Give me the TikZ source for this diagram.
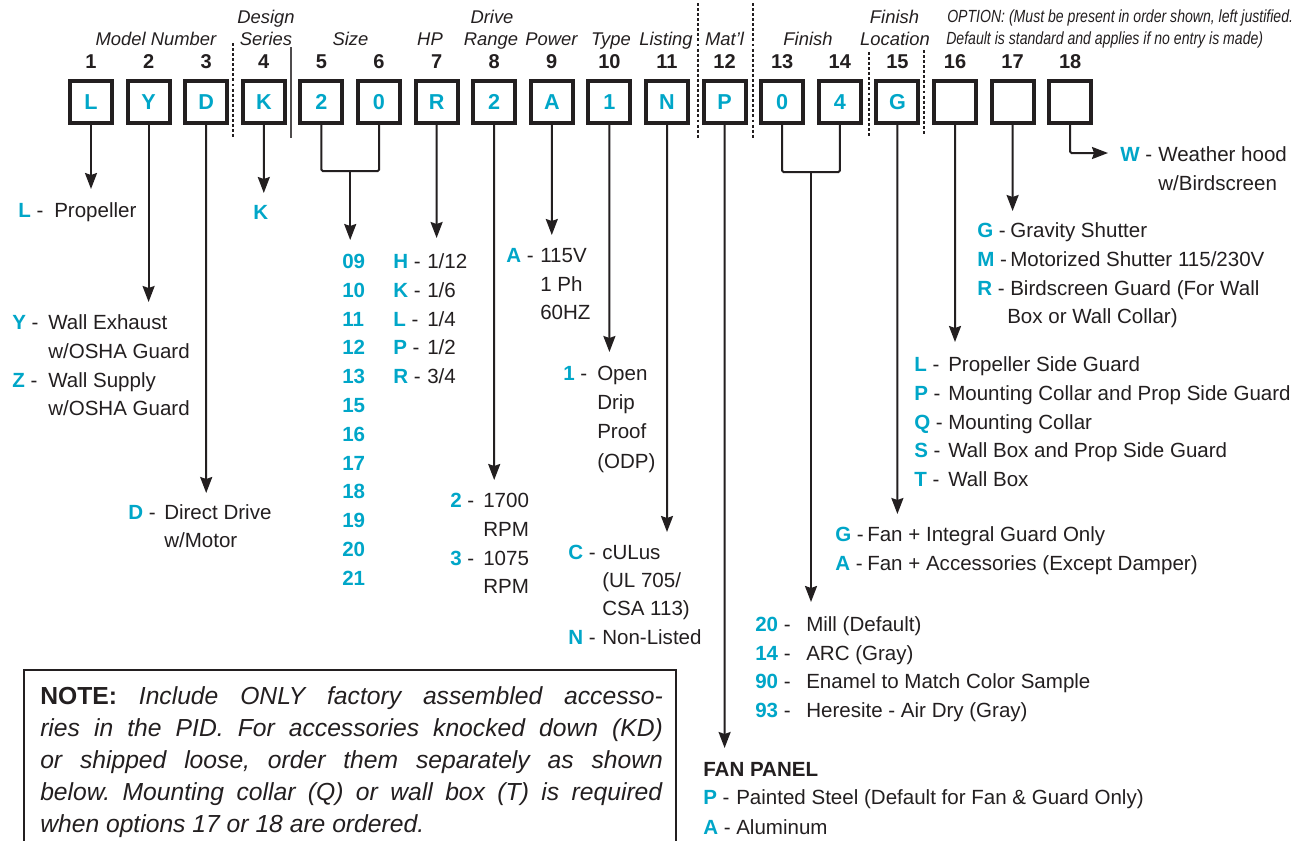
\documentclass[tikz,border=0pt]{standalone}
\usepackage{fontspec}
\setmainfont{Liberation Sans}
\newfontfamily\condfont[FakeStretch=0.86]{Liberation Sans}
\usetikzlibrary{arrows.meta}
\definecolor{cy}{RGB}{0,166,200}
\definecolor{ink}{RGB}{35,31,32}
\newcommand{\cd}[1]{\textcolor{cy}{\bfseries #1}}
\frenchspacing
\tikzset{
  x=0.75pt, y=-0.75pt,
  pbox/.style={draw=ink, line width=3pt, minimum size=31.5pt, inner sep=0pt,
    text=cy, font=\bfseries\fontsize{16.2}{18}\selectfont},
  num/.style={anchor=base, inner sep=0pt, text=ink, font=\bfseries\fontsize{15}{16}\selectfont},
  hd/.style={anchor=base, inner sep=0pt, text=ink, font=\itshape\fontsize{13.8}{15}\selectfont},
  opt/.style={anchor=base west, inner sep=0pt, text=ink, font=\condfont\itshape\fontsize{13.2}{15}\selectfont},
  txt/.style={anchor=base west, inner sep=0pt, text=ink, font=\fontsize{15.4}{18}\selectfont},
  con/.style={draw=ink, line width=1.5pt},
  arr/.style={con, -{Stealth[width=9pt,length=12pt,inset=1.5pt]}},
  sep/.style={draw=ink, line width=0.8pt, dash pattern=on 2.2pt off 1.6pt},
}
\begin{document}
\begin{tikzpicture}
\useasboundingbox (0,0) rectangle (1303,840);
\fill[white] (0,0) rectangle (1303,840);

% ---- boxes ----
\foreach \i/\t in {1/L,2/Y,3/D,4/K,5/2,6/0,7/R,8/2,9/A,10/1,11/N,12/P,13/0,14/4,15/G,16/{},17/{},18/{}}{
  \node[pbox] (b\i) at ({91+57.6*(\i-1)},102) {\t};
  \node[num] (n\i) at ({91+57.6*(\i-1)},68.5) {\i};
}

% ---- headings ----
\node[hd] (hModel) at (156,45) {Model Number};
\node[hd] (hDes) at (266,23) {Design};
\node[hd] (hSer) at (266,45) {Series};
\node[hd] (hSize) at (350.5,45) {Size};
\node[hd] (hHP) at (430,45) {HP};
\node[hd] (hDrive) at (492,23) {Drive};
\node[hd] (hRange) at (491,45) {Range};
\node[hd] (hPower) at (551.5,45) {Power};
\node[hd] (hType) at (611,45) {Type};
\node[hd] (hList) at (666,45) {Listing};
\node[hd] (hMat) at (724.5,45) {Mat'l};
\node[hd] (hFin) at (808,45) {Finish};
\node[hd] (hFin2) at (894.5,23) {Finish};
\node[hd] (hLoc) at (895,45) {Location};
\node[opt] (hOpt1) at (947,22) {\scalebox{0.93}[1]{OPTION: (Must be present in order shown, left justified.}};
\node[opt] (hOpt2) at (946,44) {\scalebox{0.93}[1]{Default is standard and applies if no entry is made)}};

% ---- separators ----
\draw[sep] (233,43) -- (233,138);
\draw[draw=ink!80, line width=0.8pt] (291,47) -- (291,138);
\draw[sep] (698,3) -- (698,138);
\draw[sep] (753,3) -- (753,138);
\draw[sep] (869,52) -- (869,138);
\draw[sep] (924,50) -- (924,136);

% ---- connector end points ----
\coordinate (a1) at (91,189);
\coordinate (a2) at (148.6,302);
\coordinate (a3) at (206.2,493);
\coordinate (a4) at (263.8,193);
\coordinate (k5) at (321.4,171);
\coordinate (k6) at (379,171);
\coordinate (m56) at (350.2,171);
\coordinate (a56) at (350.2,240);
\coordinate (a7) at (436.6,238);
\coordinate (a8) at (494.2,480);
\coordinate (a9) at (551.8,235);
\coordinate (a10) at (609.4,352);
\coordinate (a11) at (667,532);
\coordinate (a12) at (724.6,748);
\coordinate (k13) at (782.2,172);
\coordinate (k14) at (839.8,172);
\coordinate (m1314) at (811,172);
\coordinate (a1314) at (811,602);
\coordinate (a15) at (897.4,514);
\coordinate (a16) at (955,342);
\coordinate (a17) at (1012.6,211);
\coordinate (k18) at (1070.2,153);
\coordinate (a18) at (1108,153);

\draw[arr] (b1) -- (a1);
\draw[arr] (b2) -- (a2);
\draw[arr] (b3) -- (a3);
\draw[arr] (b4) -- (a4);
\draw[con, rounded corners=1pt] (b5) -- (k5) -- (k6) -- (b6);
\draw[arr] (m56) -- (a56);
\draw[arr] (b7) -- (a7);
\draw[arr] (b8) -- (a8);
\draw[arr] (b9) -- (a9);
\draw[arr] (b10) -- (a10);
\draw[arr] (b11) -- (a11);
\draw[arr] (b12) -- (a12);
\draw[con, rounded corners=1pt] (b13) -- (k13) -- (k14) -- (b14);
\draw[arr] (m1314) -- (a1314);
\draw[arr] (b15) -- (a15);
\draw[arr] (b16) -- (a16);
\draw[arr] (b17) -- (a17);
\draw[arr, rounded corners=1pt] (b18) -- (k18) -- (a18);

% ---- 1 ----
\node[txt] (c1) at (18,217) {\cd{L} -};
\node[txt] (t1) at (54,217) {Propeller};
% ---- 2 ----
\node[txt] (c2y) at (12,329.5) {\cd{Y} -};
\node[txt] (t2a) at (48,329.5) {Wall Exhaust};
\node[txt] (t2b) at (48,358.5) {w/OSHA Guard};
\node[txt] (c2z) at (12,387.5) {\cd{Z} -};
\node[txt] (t2c) at (48,387.5) {Wall Supply};
\node[txt] (t2d) at (48,415.5) {w/OSHA Guard};
% ---- 3 ----
\node[txt] (c3) at (128,519.5) {\cd{D} -};
\node[txt] (t3a) at (164,519.5) {Direct Drive};
\node[txt] (t3b) at (164,547.5) {w/Motor};
% ---- 4 ----
\node[txt] (c4) at (253,219.5) {\cd{K}};
% ---- 5-6 ----
\foreach \s [count=\k from 0] in {09,10,11,12,13,15,16,17,18,19,20,21}{
  \node[txt] (s\s) at (342,{268.5+28.8*\k}) {\cd{\s}};
}
% ---- 7 ----
\foreach \c/\v [count=\k from 0] in {H/1\slash 12,K/1\slash 6,L/1\slash 4,P/1\slash 2,R/3\slash 4}{
  \node[txt] (c7\c) at (393,{268.5+28.8*\k}) {\cd{\c} -};
  \node[txt] (t7\c) at (427,{268.5+28.8*\k}) {\v};
}
% ---- 8 ----
\node[txt] (c8a) at (450,507.5) {\cd{2} -};
\node[txt] (t8a) at (483,507.5) {1700};
\node[txt] (t8b) at (483,536.5) {RPM};
\node[txt] (c8b) at (450,565.5) {\cd{3} -};
\node[txt] (t8c) at (483,565.5) {1075};
\node[txt] (t8d) at (483,593.5) {RPM};
% ---- 9 ----
\node[txt] (c9) at (506,262.5) {\cd{A} -};
\node[txt] (t9a) at (540,262.5) {115V};
\node[txt] (t9b) at (540,291.5) {1 Ph};
\node[txt] (t9c) at (540,319.5) {60HZ};
% ---- 10 ----
\node[txt] (c10) at (563,380.5) {\cd{1} -};
\node[txt] (t10a) at (597,380.5) {Open};
\node[txt] (t10b) at (597,409.5) {Drip};
\node[txt] (t10c) at (597,438.5) {Proof};
\node[txt] (t10d) at (597,468) {(ODP)};
% ---- 11 ----
\node[txt] (c11a) at (568,559.5) {\cd{C} -};
\node[txt] (t11a) at (602,559.5) {cULus};
\node[txt] (t11b) at (602,587.5) {(UL 705/};
\node[txt] (t11c) at (602,615.5) {CSA 113)};
\node[txt] (c11b) at (568,644.5) {\cd{N} -};
\node[txt] (t11d) at (602,644.5) {Non-Listed};
% ---- 12 ----
\node[txt, font=\bfseries\fontsize{15.4}{18}\selectfont] (t12h) at (703,776.5) {FAN PANEL};
\node[txt] (c12a) at (703,804.5) {\cd{P} -};
\node[txt] (t12a) at (736,804.5) {Painted Steel (Default for Fan \& Guard Only)};
\node[txt] (c12b) at (703,834) {\cd{A} -};
\node[txt] (t12b) at (736,834) {Aluminum};
% ---- 13-14 ----
\foreach \c/\v [count=\k from 0] in {20/Mill (Default),14/ARC (Gray),90/Enamel to Match Color Sample,93/Heresite - Air Dry (Gray)}{
  \node[txt] (c13\c) at (755,{631.5+28.7*\k}) {\cd{\c} -};
  \node[txt] (t13\c) at (806,{631.5+28.7*\k}) {\v};
}
% ---- 15 ----
\node[txt] (c15a) at (835,541.5) {\cd{G} -};
\node[txt] (t15a) at (867,541.5) {Fan + Integral Guard Only};
\node[txt] (c15b) at (835,570.5) {\cd{A} -};
\node[txt] (t15b) at (867,570.5) {Fan + Accessories (Except Damper)};
% ---- 16 ----
\foreach \c/\v [count=\k from 0] in {L/Propeller Side Guard,P/Mounting Collar and Prop Side Guard,Q/Mounting Collar,S/Wall Box and Prop Side Guard,T/Wall Box}{
  \node[txt] (c16\c) at (914,{371.5+28.75*\k}) {\cd{\c} -};
  \node[txt] (t16\c) at (948,{371.5+28.75*\k}) {\v};
}
% ---- 17 ----
\node[txt] (c17g) at (977,237.5) {\cd{G} -};
\node[txt] (t17g) at (1010,237.5) {Gravity Shutter};
\node[txt] (c17m) at (977,266.5) {\cd{M} -};
\node[txt] (t17m) at (1010,266.5) {Motorized Shutter 115/230V};
\node[txt] (c17r) at (977,295.5) {\cd{R} -};
\node[txt] (t17r) at (1010,295.5) {Birdscreen Guard (For Wall};
\node[txt] (t17r2) at (1007,323.5) {Box or Wall Collar)};
% ---- 18 ----
\node[txt] (c18) at (1120,161.5) {\cd{W} -};
\node[txt] (t18a) at (1158,161.5) {Weather hood};
\node[txt] (t18b) at (1158,190.5) {w/Birdscreen};

% ---- note ----
\draw[draw=ink, line width=1.5pt] (24,670) rectangle (676,870);
\node[anchor=north west, inner sep=0pt, text=ink, align=left,
      font=\fontsize{18.5}{24}\selectfont] (note) at (40,686) {%
\makebox[467pt][s]{\textbf{NOTE:} \textit{Include ONLY factory assembled accesso-}}\\
\makebox[467pt][s]{\textit{ries in the PID. For accessories knocked down (KD)}}\\
\makebox[467pt][s]{\textit{or shipped loose, order them separately as shown}}\\
\makebox[467pt][s]{\textit{below. Mounting collar (Q) or wall box (T) is required}}\\
\textit{when options 17 or 18 are ordered.}};
\end{tikzpicture}
\end{document}
